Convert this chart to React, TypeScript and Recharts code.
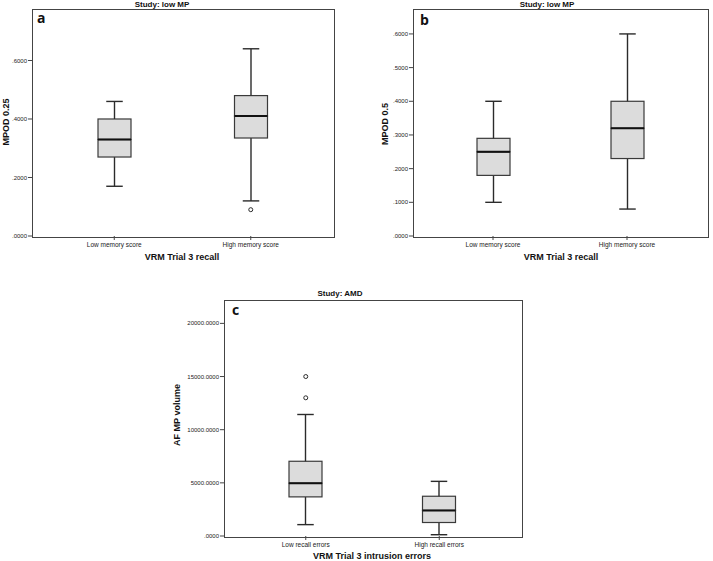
import { ComposedChart, Bar, Line, XAxis, YAxis } from 'recharts';

// panel a / b: low MP study, by VRM trial 3 recall
const memoryGroups = ['Low memory score', 'High memory score'];
const mpod25Min = [0.17, 0.12];
const mpod25Q1 = [0.27, 0.335];
const mpod25Median = [0.33, 0.41];
const mpod25Q3 = [0.4, 0.48];
const mpod25Max = [0.46, 0.64];
const mpod25Outlier = [null, 0.09];
const mpod25Ticks = [0, 0.2, 0.4, 0.6];

const mpod5Min = [0.1, 0.08];
const mpod5Q1 = [0.18, 0.23];
const mpod5Median = [0.25, 0.32];
const mpod5Q3 = [0.29, 0.4];
const mpod5Max = [0.4, 0.6];
const mpod5Ticks = [0, 0.1, 0.2, 0.3, 0.4, 0.5, 0.6];

// panel c: AMD study, by intrusion errors
const recallGroups = ['Low recall errors', 'High recall errors'];
const volumeMin = [1070, 120];
const volumeQ1 = [3680, 1270];
const volumeMedian = [4970, 2410];
const volumeQ3 = [7030, 3740];
const volumeMax = [11430, 5140];
const volumeOutlierHi = [15000, null];
const volumeOutlierLo = [13000, null];
const volumeTicks = [0, 5000, 10000, 15000, 20000];

type Num = number | null;

function boxRows(cats: string[], min: number[], q1: number[], med: number[], q3: number[], max: number[], outs: Num[][]) {
  return cats.map((cat, i) => {
    const row: Record<string, any> = {
      cat,
      base: min[i],
      lw: q1[i] - min[i],
      b1: med[i] - q1[i],
      b2: q3[i] - med[i],
      uw: max[i] - q3[i],
    };
    outs.forEach((o, k) => (row['out' + k] = o[i]));
    return row;
  });
}

const INK = '#2b2b2b';
const FRAME = '#444';
const FONT = '"Liberation Sans", Arial, sans-serif';
const TICK = 4;
const GAP = 1;

const fmt = (v: number) => v.toFixed(4).replace(/^0\./, '.');

const lowerWhisker = (p: any) => {
  const cx = p.x + p.width / 2;
  const bottom = p.y + p.height;
  return (
    <g>
      <line x1={cx} x2={cx} y1={p.y} y2={bottom} stroke={INK} strokeWidth={1.4} />
      <line x1={cx - p.width / 4} x2={cx + p.width / 4} y1={bottom} y2={bottom} stroke={INK} strokeWidth={1.4} />
    </g>
  );
};

const upperWhisker = (p: any) => {
  const cx = p.x + p.width / 2;
  return (
    <g>
      <line x1={cx} x2={cx} y1={p.y} y2={p.y + p.height} stroke={INK} strokeWidth={1.4} />
      <line x1={cx - p.width / 4} x2={cx + p.width / 4} y1={p.y} y2={p.y} stroke={INK} strokeWidth={1.4} />
    </g>
  );
};

const boxLow = (p: any) => (
  <rect x={p.x} y={p.y} width={p.width} height={p.height} fill="#dcdcdc" stroke="#3a3a3a" strokeWidth={1.2} />
);

const boxHigh = (p: any) => (
  <g>
    <rect x={p.x} y={p.y} width={p.width} height={p.height} fill="#dcdcdc" stroke="#3a3a3a" strokeWidth={1.2} />
    <line x1={p.x} x2={p.x + p.width} y1={p.y + p.height} y2={p.y + p.height} stroke="#111" strokeWidth={2} />
  </g>
);

const outlierDot = (p: any) => {
  if (typeof p.cy !== 'number' || p.value == null) return <g key={p.key ?? p.index} />;
  return <circle key={p.key ?? p.index} cx={p.cx} cy={p.cy} r={2} fill="#fff" stroke={INK} strokeWidth={1} />;
};

// tick label + tick mark drawn together
const yTick = (p: any) => (
  <g>
    <line x1={p.x + GAP} x2={p.x + GAP + TICK} y1={p.y} y2={p.y} stroke={FRAME} strokeWidth={1} />
    <text x={p.x} y={p.y} dy="0.35em" textAnchor="end" fontSize={6} fill="#222" fontFamily={FONT}>
      {fmt(p.payload.value)}
    </text>
  </g>
);

const xTick = (p: any) => (
  <g>
    <line x1={p.x} x2={p.x} y1={p.y - GAP - TICK} y2={p.y - GAP} stroke={FRAME} strokeWidth={1} />
    <text x={p.x} y={p.y + 1} dy="0.71em" textAnchor="middle" fontSize={6.5} fill="#222" fontFamily={FONT}>
      {p.payload.value}
    </text>
  </g>
);

type PanelProps = {
  rows: Record<string, any>[];
  outKeys: string[];
  ticks: number[];
  domainMax: number;
  width: number;
  height: number;
  margin: { top: number; right: number; left: number; bottom: number };
  yWidth: number;
  xHeight: number;
  pad: number;
};

function BoxPanel({ rows, outKeys, ticks, domainMax, width, height, margin, yWidth, xHeight, pad }: PanelProps) {
  const plotLeft = margin.left + yWidth;
  const plotWidth = width - plotLeft - margin.right;
  const plotHeight = height - margin.top - margin.bottom - xHeight;
  return (
    <div style={{ position: 'relative', width, height }}>
      <ComposedChart width={width} height={height} data={rows} margin={margin} barSize={33}>
        <XAxis
          dataKey="cat"
          padding={{ left: pad, right: pad }}
          tickSize={TICK}
          tickMargin={GAP}
          height={xHeight}
          axisLine={false}
          tickLine={false}
          tick={xTick}
          interval={0}
        />
        <YAxis
          domain={[0, domainMax]}
          ticks={ticks}
          allowDataOverflow
          width={yWidth}
          tickSize={TICK}
          tickMargin={GAP}
          axisLine={false}
          tickLine={false}
          tick={yTick}
          interval={0}
        />
        <Bar dataKey="base" stackId="box" fill="transparent" isAnimationActive={false} />
        <Bar dataKey="lw" stackId="box" shape={lowerWhisker} isAnimationActive={false} />
        <Bar dataKey="b1" stackId="box" shape={boxLow} isAnimationActive={false} />
        <Bar dataKey="b2" stackId="box" shape={boxHigh} isAnimationActive={false} />
        <Bar dataKey="uw" stackId="box" shape={upperWhisker} isAnimationActive={false} />
        {outKeys.map((k) => (
          <Line key={k} dataKey={k} stroke="none" dot={outlierDot} activeDot={false} isAnimationActive={false} />
        ))}
      </ComposedChart>
      {/* plot frame */}
      <div
        style={{
          position: 'absolute',
          left: plotLeft - 0.5,
          top: margin.top - 0.5,
          width: plotWidth,
          height: plotHeight,
          border: `1.3px solid ${FRAME}`,
          boxSizing: 'content-box',
          pointerEvents: 'none',
        }}
      />
    </div>
  );
}

const abs = (left: number, top: number, extra: React.CSSProperties = {}): React.CSSProperties => ({
  position: 'absolute',
  left,
  top,
  fontFamily: FONT,
  color: '#111',
  whiteSpace: 'nowrap',
  ...extra,
});

function Title({ x, y, children }: { x: number; y: number; children: string }) {
  return (
    <div style={abs(x, y, { transform: 'translateX(-50%)', fontSize: 8, fontWeight: 700, lineHeight: '9px' })}>{children}</div>
  );
}

function AxisTitle({ x, y, children, vertical }: { x: number; y: number; children: string; vertical?: boolean }) {
  return (
    <div
      style={abs(x, y, {
        transform: vertical ? 'translate(-50%, -50%) rotate(-90deg)' : 'translate(-50%, -50%)',
        fontSize: 9,
        fontWeight: 700,
        lineHeight: '10px',
      })}
    >
      {children}
    </div>
  );
}

function Letter({ x, y, children }: { x: number; y: number; children: string }) {
  return (
    <div style={abs(x, y, { fontFamily: '"Open Sans", sans-serif', fontSize: 14, fontWeight: 700, lineHeight: '16px' })}>
      {children}
    </div>
  );
}

export default function App() {
  const rowsA = boxRows(memoryGroups, mpod25Min, mpod25Q1, mpod25Median, mpod25Q3, mpod25Max, [mpod25Outlier]);
  const rowsB = boxRows(memoryGroups, mpod5Min, mpod5Q1, mpod5Median, mpod5Q3, mpod5Max, []);
  const rowsC = boxRows(recallGroups, volumeMin, volumeQ1, volumeMedian, volumeQ3, volumeMax, [volumeOutlierHi, volumeOutlierLo]);

  return (
    <div style={{ position: 'absolute', left: 0, top: 0, width: 713, height: 561, background: '#fff', overflow: 'hidden' }}>
      <div style={{ position: 'absolute', left: 0, top: 0 }}>
        <BoxPanel
          rows={rowsA}
          outKeys={['out0']}
          ticks={mpod25Ticks}
          domainMax={0.776}
          width={355}
          height={270}
          margin={{ top: 9, right: 22, left: 0, bottom: 0 }}
          yWidth={32}
          xHeight={34}
          pad={14}
        />
      </div>
      <div style={{ position: 'absolute', left: 355, top: 0 }}>
        <BoxPanel
          rows={rowsB}
          outKeys={[]}
          ticks={mpod5Ticks}
          domainMax={0.674}
          width={358}
          height={270}
          margin={{ top: 9, right: 6, left: 0, bottom: 0 }}
          yWidth={58}
          xHeight={34}
          pad={13}
        />
      </div>
      <div style={{ position: 'absolute', left: 170, top: 270 }}>
        <BoxPanel
          rows={rowsC}
          outKeys={['out0', 'out1']}
          ticks={volumeTicks}
          domainMax={22200}
          width={380}
          height={291}
          margin={{ top: 30, right: 29, left: 0, bottom: 0 }}
          yWidth={54}
          xHeight={25}
          pad={15}
        />
      </div>

      <Title x={162} y={0}>Study: low MP</Title>
      <Title x={547} y={0}>Study: low MP</Title>
      <Title x={340} y={289}>Study: AMD</Title>

      <Letter x={37} y={10}>a</Letter>
      <Letter x={420} y={12}>b</Letter>
      <Letter x={232} y={302}>c</Letter>

      <AxisTitle x={6} y={122} vertical>MPOD 0.25</AxisTitle>
      <AxisTitle x={385} y={124} vertical>MPOD 0.5</AxisTitle>
      <AxisTitle x={177} y={415} vertical>AF MP volume</AxisTitle>

      <AxisTitle x={182} y={257}>VRM Trial 3 recall</AxisTitle>
      <AxisTitle x={561} y={257}>VRM Trial 3 recall</AxisTitle>
      <AxisTitle x={372} y={556}>VRM Trial 3 intrusion errors</AxisTitle>
    </div>
  );
}
